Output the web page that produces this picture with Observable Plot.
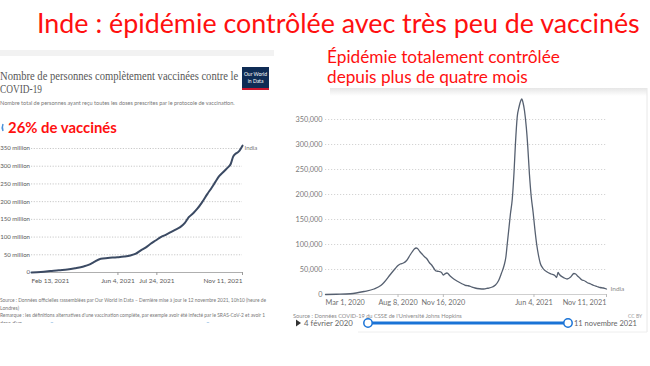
<!DOCTYPE html>
<html><head><meta charset="utf-8">
<script src="https://cdn.jsdelivr.net/npm/d3@7"></script>
<script src="https://cdn.jsdelivr.net/npm/@observablehq/plot@0.6"></script>
<style>
html,body{margin:0;padding:0;background:#fff;width:650px;height:366px;overflow:hidden;}
#stage{position:relative;width:650px;height:366px;}
.abs{position:absolute;}
</style></head><body>
<div id="stage">
<svg id="deco" class="abs" style="left:0;top:0" width="650" height="366" font-family="Lato">
  <defs>
    <linearGradient id="shadow" x1="0" y1="0" x2="0" y2="1">
      <stop offset="0" stop-color="#e6e6e6"/><stop offset="1" stop-color="#ffffff"/>
    </linearGradient>
    <clipPath id="cutLeft"><rect x="0" y="0" width="650" height="323"/></clipPath>
  </defs>
  <!-- slide title -->
  <text x="37" y="33" font-size="27.5" fill="#ff1010" data-w="603">Inde : épidémie contrôlée avec très peu de vaccinés</text>
  <!-- left panel -->
  <rect x="0" y="50" width="274" height="6" fill="#f2f2f2"/>
  <text x="0" y="80" font-family="Liberation Serif" font-size="11.7" fill="#575757" data-w="238">Nombre de personnes complètement vaccinées contre le</text>
  <text x="0" y="93" font-family="Liberation Serif" font-size="11.7" fill="#575757" data-w="42">COVID-19</text>
  <text x="0" y="105" font-size="5.8" fill="#777" data-w="235">Nombre total de personnes ayant reçu toutes les doses prescrites par le protocole de vaccination.</text>
  <rect x="242" y="67" width="27" height="21" fill="#0f2c55"/>
  <rect x="242" y="88" width="27" height="2" fill="#c8162e"/>
  <text x="255.5" y="75.5" font-size="5" fill="#fff" text-anchor="middle">Our World</text>
  <text x="255.5" y="83" font-size="5" fill="#fff" text-anchor="middle">in Data</text>
  <path d="M3,124 Q1.5,127.5 3,131" fill="none" stroke="#4a90d9" stroke-width="1.5"/>
  <text x="8" y="133" font-size="14.5" font-weight="bold" fill="#ff1010" data-w="109">26% de vaccinés</text>
  <text x="0" y="302" font-size="5.2" fill="#777" data-w="266">Source : Données officielles rassemblées par Our World in Data – Dernière mise à jour le 12 novembre 2021, 10h10 (heure de</text>
  <text x="0" y="309.5" font-size="5.2" fill="#777" data-w="19">Londres)</text>
  <text x="0" y="317" font-size="5.2" fill="#777" data-w="265">Remarque : les définitions alternatives d'une vaccination complète, par exemple avoir été infecté par le SRAS-CoV-2 et avoir 1</text>
  <g clip-path="url(#cutLeft)">
    <text x="0" y="324.5" font-size="5.2" fill="#777">dose d'un</text>
    <circle cx="52" cy="325" r="2.2" fill="none" stroke="#5b9bd5" stroke-width="0.8"/>
    <circle cx="208" cy="325" r="2.2" fill="none" stroke="#5b9bd5" stroke-width="0.8"/>
  </g>
  <!-- right panel -->
  <rect x="330" y="88" width="317" height="8" fill="url(#shadow)"/>
  <line x1="647" y1="88" x2="647" y2="332" stroke="#e8e8e8"/>
  <line x1="358" y1="332" x2="647" y2="332" stroke="#eeeeee"/>
  <text x="327" y="63" font-size="18" fill="#ff1010" data-w="233">Épidémie totalement contrôlée</text>
  <text x="327" y="83" font-size="18" fill="#ff1010" data-w="201">depuis plus de quatre mois</text>
  <text x="293" y="318" font-size="5.8" fill="#8a8a8a" data-w="169">Source : Données COVID-19 du CSSE de l'Université Johns Hopkins</text>
  <text x="628" y="318" font-size="5" fill="#999">CC BY</text>
  <path d="M296,319.5 L301,323 L296,326.5 Z" fill="#333"/>
  <text x="304" y="326" font-size="7.8" fill="#666" data-w="49">4 février 2020</text>
  <line x1="368" y1="323" x2="568" y2="323" stroke="#1a73d6" stroke-width="3"/>
  <circle cx="368" cy="323" r="4.2" fill="#fff" stroke="#1a73d6" stroke-width="1.5"/>
  <circle cx="568" cy="323" r="4.2" fill="#fff" stroke="#1a73d6" stroke-width="1.5"/>
  <text x="574" y="326" font-size="7.8" fill="#666" data-w="63">11 novembre 2021</text>
</svg>
<div id="left" class="abs" style="left:0;top:135px;width:280px;height:160px"></div>
<div id="right" class="abs" style="left:290px;top:100px;width:345px;height:215px"></div>
</div>
<script>
// ---- Data: people fully vaccinated in India (millions)
const vaxDates = ["2021-02-13","2021-02-25","2021-03-09","2021-03-20","2021-03-31","2021-04-10","2021-04-21","2021-04-28","2021-05-04","2021-05-13","2021-05-22","2021-06-03","2021-06-12","2021-06-20","2021-06-27","2021-07-03","2021-07-10","2021-07-16","2021-07-23","2021-07-29","2021-08-05","2021-08-11","2021-08-17","2021-08-23","2021-08-29","2021-09-03","2021-09-09","2021-09-14","2021-09-20","2021-09-27","2021-10-02","2021-10-07","2021-10-12","2021-10-17","2021-10-22","2021-10-27","2021-10-30","2021-11-02","2021-11-06","2021-11-11"];
const vaxMillions = [0,1.5,4,6.5,8.5,12,17,22,29,39,41,43,45,48,53,62,71,81,91,100,107,114,121,128,140,156,168,180,198,222,238,255,272,283,294,307,327,335,341,358];
const vaxYTicks = [0,50,100,150,200,250,300,350];
const vaxXTicks = ["2021-02-13","2021-06-04","2021-07-24","2021-11-11"];
const vaxXLabels = ["Feb 13, 2021","Jun 4, 2021","Jul 24, 2021","Nov 11, 2021"];

// ---- Data: daily new confirmed cases, 7-day average (thousands)
const caseDates = ["2020-03-01","2020-03-25","2020-04-25","2020-05-25","2020-06-16","2020-07-01","2020-07-08","2020-07-22","2020-08-02","2020-08-08","2020-08-13","2020-08-20","2020-08-27","2020-09-03","2020-09-08","2020-09-13","2020-09-17","2020-09-20","2020-09-25","2020-09-30","2020-10-05","2020-10-11","2020-10-16","2020-10-22","2020-10-27","2020-10-31","2020-11-07","2020-11-12","2020-11-16","2020-11-19","2020-11-24","2020-12-01","2020-12-09","2020-12-16","2020-12-24","2020-12-31","2021-01-05","2021-01-10","2021-01-15","2021-01-25","2021-02-04","2021-02-13","2021-02-22","2021-03-04","2021-03-11","2021-03-18","2021-03-24","2021-03-30","2021-04-03","2021-04-06","2021-04-10","2021-04-13","2021-04-17","2021-04-21","2021-04-24","2021-04-28","2021-05-02","2021-05-06","2021-05-08","2021-05-11","2021-05-14","2021-05-18","2021-05-21","2021-05-25","2021-05-29","2021-06-02","2021-06-06","2021-06-10","2021-06-14","2021-06-18","2021-06-24","2021-07-03","2021-07-12","2021-07-20","2021-07-24","2021-07-27","2021-07-30","2021-08-10","2021-08-16","2021-08-24","2021-08-31","2021-09-04","2021-09-08","2021-09-13","2021-09-18","2021-09-22","2021-09-29","2021-10-07","2021-10-14","2021-10-21","2021-10-28","2021-11-04","2021-11-11"];
const caseThousands = [0,0.5,1.5,6,11,18,24,40,52,58,61,63,68,78,85,91,93,92,86,81,76,71,64,58,51,47,46,44,39,41,43,37,31,27,23,20,18,17.5,16,13,11.5,11,12.5,15,19,28,42,58,75,101,135,161,190,245,300,355,375,388,391,383,368,335,300,240,195,165,130,100,78,62,52,45,41,38,34,44,40,33,31,35,42,41,37,33,29,28,24,21,18,16,14,13,11];
const caseYTicks = [0,50000,100000,150000,200000,250000,300000,350000];
const caseXTicks = ["2020-03-01","2020-08-08","2020-11-16","2021-06-04","2021-11-11"];
const caseXLabels = ["Mar 1, 2020","Aug 8, 2020","Nov 16, 2020","Jun 4, 2021","Nov 11, 2021"];

const toDate = s => new Date(s + "T00:00:00Z");

// fit static texts to the widths measured on the reference (horizontal scale only)
function fitTexts() {
  document.querySelectorAll("#deco text[data-w]").forEach(t => {
    if (!t.dataset.x) { t.dataset.x = t.getAttribute("x"); t.dataset.y = t.getAttribute("y"); }
    t.removeAttribute("transform");
    t.setAttribute("x", 0); t.setAttribute("y", 0);
    const n = t.getComputedTextLength();
    const s = n > 0 ? (+t.dataset.w) / n : 1;
    t.setAttribute("transform", `translate(${t.dataset.x},${t.dataset.y}) scale(${s},1)`);
  });
}
fitTexts();
if (document.fonts && document.fonts.ready) document.fonts.ready.then(fitTexts);

function xAxes(dates, labels, o) {
  const d = dates.map(toDate);
  const fmt = t => labels[d.findIndex(x => +x === +t)];
  const n = d.length;
  return [
    Plot.axisX([d[0]], {...o, label: null, tickFormat: fmt, textAnchor: "start", tickSize: 0, tickPadding: o.tickSize + o.tickPadding}),
    Plot.axisX(d.slice(1, n - 1), {...o, label: null, tickFormat: fmt}),
    Plot.axisX([d[n - 1]], {...o, label: null, tickFormat: fmt, textAnchor: "end"})
  ];
}

// ---- Left chart
const vax = vaxDates.map((s, i) => ({date: toDate(s), value: vaxMillions[i]}));
const leftPlot = Plot.plot({
  width: 280, height: 160,
  marginLeft: 31, marginRight: 38, marginTop: 13, marginBottom: 23,
  style: {fontFamily: "Lato", fontSize: "6.5px", color: "#666", background: "transparent", overflow: "visible"},
  x: {type: "utc", domain: [toDate(vaxXTicks[0]), toDate(vaxXTicks[vaxXTicks.length - 1])]},
  y: {domain: [0, 350]},
  marks: [
    Plot.gridY(vaxYTicks.slice(1), {stroke: "#c8c8c8", strokeOpacity: 1, strokeDasharray: "1.2,1.5"}),
    Plot.axisY(vaxYTicks, {label: null, tickSize: 0, tickPadding: 1.5, fontSize: 6.1, fill: "#5a5a5a", tickFormat: d => d === 0 ? "0" : `${d} million`}),
    Plot.ruleY([0], {stroke: "#9a9a9a", strokeWidth: 0.8}),
    ...xAxes(vaxXTicks, vaxXLabels, {tickSize: 3, tickPadding: 3, stroke: "#9a9a9a", fill: "#5a5a5a"}),
    Plot.line(vax, {x: "date", y: "value", stroke: "#3b4a63", strokeWidth: 2, curve: "monotone-x"}),
    Plot.text(vax.slice(-1), {x: "date", y: "value", text: () => "India", textAnchor: "start", dx: 2, dy: 2, fill: "#777", fontSize: 6})
  ]
});
document.getElementById("left").appendChild(leftPlot);

// ---- Right chart
const cases = caseDates.map((s, i) => ({date: toDate(s), value: caseThousands[i] * 1000}));
const rightPlot = Plot.plot({
  width: 345, height: 215,
  marginLeft: 35, marginRight: 29, marginTop: 19, marginBottom: 21,
  style: {fontFamily: "Lato", fontSize: "7.3px", color: "#777", background: "transparent", overflow: "visible"},
  x: {type: "utc", domain: [toDate(caseXTicks[0]), toDate(caseXTicks[caseXTicks.length - 1])]},
  y: {domain: [0, 350000]},
  marks: [
    Plot.gridY(caseYTicks.slice(1), {stroke: "#d4d4d4", strokeOpacity: 1, strokeDasharray: "1.2,1.8"}),
    Plot.axisY(caseYTicks, {label: null, tickSize: 0, tickPadding: 3, fill: "#7a7a7a", tickFormat: d3.format(",")}),
    Plot.ruleY([0], {stroke: "#cfcfcf", strokeWidth: 1}),
    ...xAxes(caseXTicks, caseXLabels, {tickSize: 3, tickPadding: 2, stroke: "#bbb", fill: "#707070"}),
    Plot.line(cases, {x: "date", y: "value", stroke: "#566070", strokeWidth: 1.3, curve: "monotone-x"}),
    Plot.text(cases.slice(-1), {x: "date", y: "value", text: () => "India", textAnchor: "start", dx: 4, fill: "#8a8a8a", fontSize: 6.5})
  ]
});
document.getElementById("right").appendChild(rightPlot);
</script>
</body></html>
